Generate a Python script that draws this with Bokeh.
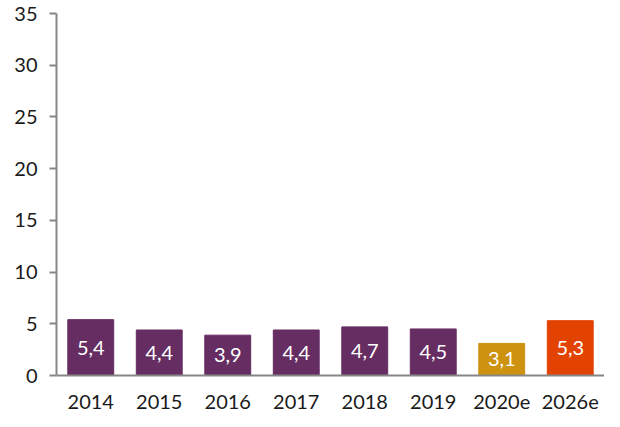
from bokeh.plotting import figure
from bokeh.models import ColumnDataSource, FixedTicker, LabelSet
from bokeh.core.properties import value
from bokeh.embed import file_html
from bokeh.resources import INLINE

years = ["2014", "2015", "2016", "2017", "2018", "2019", "2020e", "2026e"]
values = [5.4, 4.4, 3.9, 4.4, 4.7, 4.5, 3.1, 5.3]
labels = ["5,4", "4,4", "3,9", "4,4", "4,7", "4,5", "3,1", "5,3"]
colors = ["#662D62", "#662D62", "#662D62", "#662D62", "#662D62", "#662D62", "#CC9210", "#E34300"]
y_ticks = [0, 5, 10, 15, 20, 25, 30, 35]

src = ColumnDataSource(dict(x=years, top=values, lbl=labels, mid=[v / 2 for v in values], color=colors))

p = figure(x_range=years, y_range=(0, 35), width=604, height=411,
           output_backend="svg", toolbar_location=None,
           min_border_left=56, min_border_right=0, min_border_top=13, min_border_bottom=36)
p.x_range.range_padding = 0

p.vbar(x="x", top="top", width=0.67, color="color", source=src)
p.add_layout(LabelSet(x="x", y="mid", text="lbl", source=src, text_color="white",
                      text_font=value("Lato"), text_font_size=value("20px"), text_align="center",
                      text_baseline="middle"))

p.outline_line_color = None
p.grid.visible = False
p.background_fill_color = "white"
p.border_fill_color = "white"

p.yaxis.ticker = FixedTicker(ticks=y_ticks)
p.yaxis.axis_line_color = "#868686"
p.yaxis.axis_line_width = 2
p.yaxis.major_tick_line_color = "#868686"
p.yaxis.major_tick_line_width = 2
p.yaxis.major_tick_out = 7
p.yaxis.major_tick_in = 0
p.yaxis.minor_tick_line_color = None
p.yaxis.major_label_standoff = 12
p.yaxis.major_label_text_font = "Lato"
p.yaxis.major_label_text_font_size = "20px"
p.yaxis.major_label_text_color = "#1a1a1a"

p.xaxis.axis_line_color = "#868686"
p.xaxis.axis_line_width = 2
p.xaxis.major_tick_line_color = None
p.xaxis.minor_tick_line_color = None
p.xaxis.major_label_standoff = 13
p.xaxis.major_label_text_font = "Lato"
p.xaxis.major_label_text_font_size = "20px"
p.xaxis.major_label_text_color = "#1a1a1a"

open("out.html", "w").write(file_html(p, INLINE))
